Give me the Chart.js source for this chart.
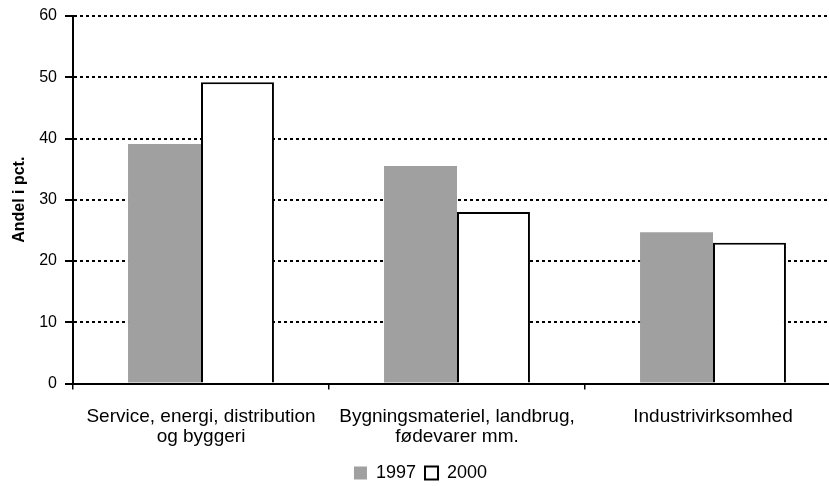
<!DOCTYPE html>
<html>
<head>
<meta charset="utf-8">
<script src="https://cdn.jsdelivr.net/npm/chart.js@4/dist/chart.umd.min.js"></script>
<style>
  html, body { margin: 0; padding: 0; background: #fff; overflow: hidden; }
</style>
</head>
<body>
<canvas id="myChart" width="914" height="492"></canvas>
<script>
let categories = [
    ["Service, energi, distribution", "og byggeri"],
    ["Bygningsmateriel, landbrug,", "fødevarer mm."],
    "Industrivirksomhed"
];
let values1997 = [39.1, 35.5, 24.7];
let values2000 = [49.2, 28.0, 23.0];
let yTicks = [0, 10, 20, 30, 40, 50, 60];

Chart.defaults.font.family = "'Liberation Sans', Arial, sans-serif";
Chart.defaults.color = "#000";

new Chart("myChart", {
    type: "bar",
    data: {
        labels: categories,
        datasets: [{
            label: "1997",
            data: values1997,
            backgroundColor: "#a0a0a0",
            borderWidth: 0
        }, {
            label: "2000",
            data: values2000,
            backgroundColor: "#fff",
            borderColor: "#000",
            borderWidth: 2
        }]
    },
    options: {
        responsive: false,
        animation: false,
        layout: {padding: {top: 16, right: 73, left: 0, bottom: 0}},
        plugins: {
            tooltip: {enabled: false},
            legend: {
                position: "bottom",
                labels: {
                    boxWidth: 13,
                    boxHeight: 13,
                    padding: 9,
                    font: {size: 18},
                    color: "#000"
                }
            }
        },
        datasets: {
            bar: {categoryPercentage: 0.57, barPercentage: 1.0}
        },
        scales: {
            x: {
                grid: {
                    display: true,
                    drawOnChartArea: false,
                    color: "#000",
                    tickLength: 6,
                    lineWidth: 1.5
                },
                border: {color: "#000", width: 2},
                ticks: {font: {size: 19, lineHeight: 1.05}, padding: 17, maxRotation: 0},
                afterFit: s => { s.height = 71.5; }
            },
            y: {
                min: 0,
                max: 60,
                afterBuildTicks: s => { s.ticks = yTicks.map(v => ({value: v})); },
                grid: {
                    color: "#000",
                    lineWidth: 2,
                    tickLength: 8,
                    tickBorderDash: []
                },
                border: {color: "#000", width: 2, dash: [3, 3]},
                ticks: {font: {size: 16, lineHeight: 1}, padding: 8},
                title: {
                    display: true,
                    text: "Andel i pct.",
                    font: {size: 16, weight: "bold"},
                    padding: {top: 10, bottom: 6}
                },
                afterFit: s => { s.width = 73; }
            }
        }
    }
});
</script>
</body>
</html>
